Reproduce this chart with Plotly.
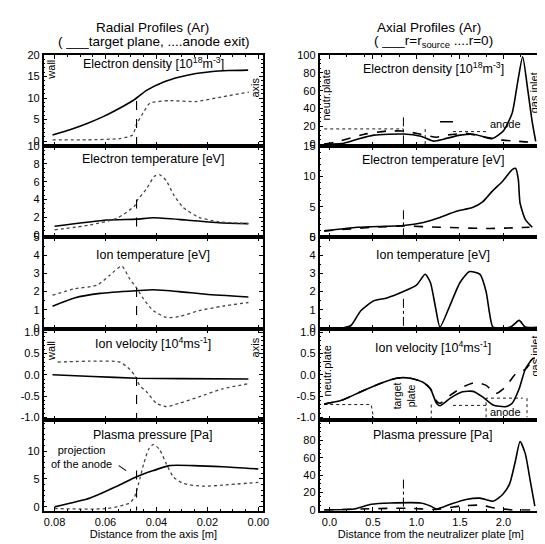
import plotly.graph_objects as go

# ---------------- data ----------------
# Radial profiles: x = distance from axis [m]
NE_T_R = [0.0808, 0.0737, 0.0672, 0.0607, 0.0543, 0.049, 0.0439, 0.0374, 0.0309, 0.0245, 0.018, 0.0116, 0.004]
NE_T = [1.4, 2.7, 4.1, 5.75, 7.7, 9.5, 11.8, 13.7, 14.9, 15.7, 16.2, 16.4, 16.5]
NE_A_R = [0.0808, 0.0672, 0.0543, 0.0494, 0.0478, 0.0452, 0.0426, 0.0348, 0.0245, 0.0141, 0.0037]
NE_A = [0.3, 0.3, 0.6, 1.4, 3.9, 6.6, 8.8, 9.4, 9.2, 10.3, 11.4]

TE_T_R = [0.08, 0.0594, 0.0478, 0.0412, 0.0283, 0.0155, 0.0039]
TE_T = [1.0, 1.7, 1.8, 1.95, 1.7, 1.4, 1.3]
TE_A_R = [0.08, 0.066, 0.0555, 0.0485, 0.0478, 0.0439, 0.0408, 0.0388, 0.0361, 0.0334, 0.0295, 0.0233, 0.0155, 0.0039]
TE_A = [0.6, 1.15, 1.9, 3.3, 3.8, 5.2, 6.6, 6.8, 6.1, 4.6, 3.1, 2.0, 1.5, 1.3]

TI_T_R = [0.0808, 0.0722, 0.0621, 0.0478, 0.0412, 0.0311, 0.0206, 0.0039]
TI_T = [1.2, 1.65, 1.9, 2.05, 2.1, 2.0, 1.85, 1.7]
TI_A_R = [0.0808, 0.0722, 0.0633, 0.0583, 0.0536, 0.0505, 0.0478, 0.0451, 0.0412, 0.0361, 0.0311, 0.0233, 0.014, 0.0039]
TI_A = [1.8, 2.15, 2.35, 2.9, 3.4, 2.7, 2.2, 1.6, 0.95, 0.58, 0.63, 0.95, 1.2, 1.4]

VI_T_R = [0.0808, 0.065, 0.0478, 0.03, 0.0039]
VI_T = [0.0, -0.04, -0.08, -0.09, -0.1]
VI_A_R = [0.0788, 0.066, 0.0544, 0.0505, 0.0485, 0.0466, 0.0439, 0.04, 0.0361, 0.0311, 0.0233, 0.014, 0.0039]
VI_A = [0.3, 0.32, 0.3, 0.13, -0.02, -0.25, -0.4, -0.67, -0.75, -0.67, -0.52, -0.33, -0.21]

P_T_R = [0.08, 0.066, 0.0555, 0.0478, 0.0412, 0.0349, 0.0256, 0.014, 0.0]
P_T = [0.0, 1.6, 3.7, 5.4, 6.5, 7.4, 7.4, 7.2, 6.8]
P_A_R = [0.08, 0.0594, 0.0505, 0.0485, 0.047, 0.045, 0.0431, 0.0412, 0.0388, 0.0361, 0.0334, 0.0295, 0.0217, 0.014, 0.0]
P_A = [-0.3, -0.3, 0.7, 1.9, 4.2, 7.7, 10.3, 11.2, 10.3, 7.7, 5.4, 4.2, 3.7, 3.9, 4.4]

# Axial profiles: x = distance from the neutralizer plate [m]
NE_S_Z = [-0.06, 0.14, 0.32, 0.51, 0.85, 1.05, 1.2, 1.31, 1.5, 1.65, 1.8, 1.88, 2.0, 2.1, 2.16, 2.22, 2.28, 2.33, 2.37]
NE_S = [0, 0.5, 5.5, 10, 11.3, 8.8, 3.3, 5.5, 10, 11, 7.7, 6.6, 15, 35, 68, 98, 60, 25, 3]
NE_0_Z = [-0.06, 0.06, 0.4, 0.66, 0.85, 1.05, 1.23, 1.34, 1.57, 1.73, 1.88, 2.1, 2.25, 2.33]
NE_0 = [0, 2, 11, 14.6, 14.6, 11, 7.7, 10, 12, 9, 5.5, 3.6, 2.5, 2]

TE_S_Z = [-0.06, 0.32, 0.85, 1.08, 1.27, 1.45, 1.65, 1.76, 1.875, 1.99, 2.1, 2.14, 2.17, 2.19, 2.25, 2.33]
TE_S = [1.0, 1.6, 1.9, 2.4, 3.2, 4.2, 4.9, 5.8, 7.6, 9.2, 11.1, 11.3, 9.5, 5.6, 2.9, 1.6]
TE_0_Z = [-0.06, 0.51, 0.85, 1.27, 1.84, 2.3]
TE_0 = [1.0, 1.6, 1.8, 1.6, 1.4, 1.6]

TI_S_Z = [-0.06, 0.15, 0.25, 0.36, 0.51, 0.66, 0.85, 1.0, 1.1, 1.16, 1.22, 1.27, 1.39, 1.5, 1.61, 1.73, 1.8, 1.84, 1.88, 2.08, 2.18, 2.25, 2.4]
TI_S = [0, 0, 0.15, 0.95, 1.5, 1.65, 2.0, 2.35, 2.95, 2.5, 1.1, 0.05, 1.3, 2.5, 3.1, 2.95, 2.0, 0.8, 0.05, 0.05, 0.42, 0.05, 0.05]

VI_S_Z = [-0.06, 0.14, 0.36, 0.59, 0.77, 0.93, 1.08, 1.16, 1.23, 1.27, 1.39, 1.53, 1.65, 1.76, 1.88, 2.02, 2.1, 2.18, 2.25, 2.33, 2.36]
VI_S = [-0.69, -0.6, -0.4, -0.2, -0.08, -0.08, -0.18, -0.33, -0.67, -0.73, -0.55, -0.4, -0.39, -0.52, -0.71, -0.75, -0.67, -0.33, 0.13, 0.37, 0.4]
VI_0_Z = [-0.06, 0.14, 0.36, 0.59, 0.77, 0.93, 1.08, 1.16, 1.23, 1.27, 1.39, 1.53, 1.68, 1.8, 1.91, 2.02, 2.14, 2.25, 2.31]
VI_0 = [-0.69, -0.6, -0.4, -0.2, -0.08, -0.08, -0.18, -0.33, -0.62, -0.67, -0.48, -0.29, -0.18, -0.25, -0.44, -0.29, 0.02, 0.13, 0.28]

P_S_Z = [-0.06, 0.28, 0.48, 0.7, 1.05, 1.16, 1.23, 1.39, 1.57, 1.73, 1.88, 1.99, 2.07, 2.14, 2.19, 2.25, 2.31, 2.36]
P_S = [0, 1, 6.5, 8, 8, 4.5, 1, 6.5, 12, 13.6, 10, 17.8, 30, 58, 79, 65, 32, 4.5]
P_0_Z = [-0.06, 0.89, 1.23, 1.5, 1.73, 1.91, 2.1, 2.36]
P_0 = [0, 2, 0.5, 4.5, 5.5, 2, 0, 0]

# device geometry outlines (axial)
GEO_NE = [([-0.06, 0.85], [17, 17]), ([1.1, 1.1], [0, 17]), ([1.42, 1.8], [14, 14])]
GEO_NE_BAR = ([1.27, 1.42], [25, 25])
GEO_VI = [([-0.06, 0.48, 0.51], [-0.7, -0.7, -1.06]), ([1.17, 1.17], [-0.7, -1.06]),
          ([1.42, 1.8], [-0.72, -0.72]), ([1.8, 1.8, 2.22], [-1.0, -0.55, -0.55]),
          ([2.27, 2.27], [-0.55, -1.0])]

ANODE_R = 0.0478       # projection of the anode (radial)
TARGET_Z = 0.85        # target plate position (axial)
ANODE_LINE_TOP = [9.3, 4.0, 2.2, -0.05, 6.5]
TARGET_LINE_TOP = [30, 4.4, 1.6, None, 35]

PANEL_TITLES = ["Electron density [10<sup>18</sup>m<sup>-3</sup>]", "Electron temperature [eV]",
                "Ion temperature [eV]", "Ion velocity [10<sup>4</sup>ms<sup>-1</sup>]", "Plasma pressure [Pa]"]

LEFT_YRANGES = [[-1.14, 20], [-0.2, 10.0], [-0.05, 5.0], [-1.06, 1.08], [-0.7, 15.6]]
RIGHT_YRANGES = [[-2.2, 100], [0, 15.0], [-0.05, 5.0], [-1.06, 1.08], [-1, 104]]
LEFT_YTICKS = [[0, 5, 10, 15, 20], [0, 2, 4, 6, 8, 10], [0, 1, 2, 3, 4, 5], [-1, -0.5, 0, 0.5, 1], [0, 5, 10]]
RIGHT_YTICKS = [[0, 20, 40, 60, 80, 100], [0, 5, 10, 15], [0, 1, 2, 3, 4, 5], [-1, -0.5, 0, 0.5, 1], [0, 20, 40, 60, 80]]
VI_TICKTEXT = ["-1.0", "-0.5", "0.0", "0.5", "1.0"]
R_TICKS = [0.08, 0.06, 0.04, 0.02, 0.0]
R_TICKTEXT = ["0.08", "0.06", "0.04", "0.02", "0.00"]
Z_TICKS = [0.0, 0.5, 1.0, 1.5, 2.0]
Z_TICKTEXT = ["0.0", "0.5", "1.0", "1.5", "2.0"]

LEFT_SERIES = [(NE_T_R, NE_T, NE_A_R, NE_A), (TE_T_R, TE_T, TE_A_R, TE_A), (TI_T_R, TI_T, TI_A_R, TI_A),
               (VI_T_R, VI_T, VI_A_R, VI_A), (P_T_R, P_T, P_A_R, P_A)]
RIGHT_SERIES = [(NE_S_Z, NE_S, NE_0_Z, NE_0), (TE_S_Z, TE_S, TE_0_Z, TE_0), (TI_S_Z, TI_S, None, None),
                (VI_S_Z, VI_S, VI_0_Z, VI_0), (P_S_Z, P_S, P_0_Z, P_0)]

# ---------------- layout geometry ----------------
W, H = 545, 544
FONT = "Liberation Sans, Arial, Helvetica, sans-serif"
COL_X = [(36, 258), (315, 540)]
ROW_Y = [(42, 135), (135, 228), (228, 322), (322, 415), (415, 508)]
LEFT_XRANGE = [0.0843, -0.0019]
RIGHT_XRANGE = [-0.114, 2.443]

fig = go.Figure()
layout = dict(width=W, height=H, margin=dict(l=0, r=0, t=0, b=0),
              paper_bgcolor="white", plot_bgcolor="white", showlegend=False,
              font=dict(family=FONT, color="black", size=11))
annotations = []


def px(x):
    return x / W


def py(y):
    return 1 - y / H


def add_line(n, x, y, dash="solid", width=1.6, color="black", shape="spline", smooth=0.6):
    fig.add_trace(go.Scatter(x=x, y=y, mode="lines", xaxis=f"x{n}", yaxis=f"y{n}",
                             line=dict(color=color, width=width, dash=dash, shape=shape,
                                       smoothing=smooth if shape == "spline" else None),
                             hoverinfo="skip"))


for row in range(5):
    for col in range(2):
        n = row * 2 + col + 1
        sfx = "" if n == 1 else str(n)
        x0, x1 = COL_X[col]
        yt, yb = ROW_Y[row]
        bottom = row == 4
        if col == 0:
            xr, xt, xtt = LEFT_XRANGE, R_TICKS, R_TICKTEXT
            yr, yt_v = LEFT_YRANGES[row], LEFT_YTICKS[row]
        else:
            xr, xt, xtt = RIGHT_XRANGE, Z_TICKS, Z_TICKTEXT
            yr, yt_v = RIGHT_YRANGES[row], RIGHT_YTICKS[row]
        layout["xaxis" + sfx] = dict(
            domain=[px(x0), px(x1)], range=xr, anchor=f"y{n}", tickvals=xt, ticktext=xtt,
            showticklabels=bottom, ticks="inside", ticklen=4, tickwidth=1, tickcolor="black",
            showline=True, linecolor="black", linewidth=1.5, mirror="allticks",
            showgrid=False, zeroline=False, tickfont=dict(size=11, family=FONT),
            minor=dict(ticks="inside", ticklen=2, nticks=5, tickcolor="black"),
            title=dict(text=("Distance from the axis [m]" if col == 0 else
                             "Distance from the neutralizer plate [m]") if bottom else None,
                       font=dict(size=11, family=FONT), standoff=2))
        ytxt = VI_TICKTEXT if row == 3 else [str(v) for v in yt_v]
        layout["yaxis" + sfx] = dict(
            domain=[py(yb), py(yt)], range=yr, anchor=f"x{n}", tickvals=yt_v, ticktext=ytxt,
            ticks="inside", ticklen=4, tickwidth=1, tickcolor="black",
            showline=True, linecolor="black", linewidth=1.5, mirror="allticks",
            showgrid=False, zeroline=False, tickfont=dict(size=11, family=FONT),
            minor=dict(ticks="inside", ticklen=2, nticks=5, tickcolor="black"))

        if col == 0:
            xs, ys, xd, yd = LEFT_SERIES[row]
            add_line(n, xs, ys)
            add_line(n, xd, yd, dash="dot", width=1.3, color="#444")
            add_line(n, [ANODE_R, ANODE_R], [ANODE_LINE_TOP[row], yr[0]], dash="dash", width=1.1, shape="linear")
            cx = 147
        else:
            xs, ys, xd, yd = RIGHT_SERIES[row]
            add_line(n, xs, ys)
            if xd is not None:
                add_line(n, xd, yd, dash="dash", width=1.6)
            if TARGET_LINE_TOP[row] is not None:
                add_line(n, [TARGET_Z, TARGET_Z], [TARGET_LINE_TOP[row], yr[0]], dash="dashdot", width=1.0, shape="linear")
            cx = 430
        ty = [50, 148, 246, 336, 431][row] if col == 0 else [55, 149, 246, 340, 431][row]
        annotations.append(dict(text=PANEL_TITLES[row], x=px(cx), y=py(ty), xref="paper", yref="paper",
                                showarrow=False, font=dict(size=12.5, family=FONT), xanchor="center", yanchor="middle"))

# device geometry outlines (right column)
for gx, gy in GEO_NE:
    add_line(2, gx, gy, dash="dot", width=0.9, shape="linear")
add_line(2, GEO_NE_BAR[0], GEO_NE_BAR[1], width=1.6, shape="linear")
for gx, gy in GEO_VI:
    add_line(8, gx, gy, dash="dot", width=0.9, shape="linear")

# projection of the anode arrow (dashed)
add_line(9, [0.0548, 0.049], [7.4, 5.6], dash="dash", width=1.1, shape="linear")

# header titles
for txt, x, y, s in [("Radial Profiles (Ar)", 146, 14, 13.5), ("( ___target plane, ....anode exit)", 147, 28, 13.5),
                     ("Axial Profiles (Ar)", 426, 14, 13.5), ("( ___r=r<sub>source</sub> ....r=0)", 430, 28, 13.5)]:
    annotations.append(dict(text=txt, x=px(x), y=py(y), xref="paper", yref="paper", showarrow=False,
                            font=dict(size=s, family=FONT), xanchor="center", yanchor="middle"))


def data_label(n, text, x, y, angle=0, size=11, xanchor="center"):
    annotations.append(dict(text=text, x=x, y=y, xref=f"x{n}", yref=f"y{n}", showarrow=False,
                            textangle=angle, font=dict(size=size, family=FONT), xanchor=xanchor, yanchor="middle"))


data_label(1, "wall", 0.0812, 16.5, -90)
data_label(1, "axis", 0.0012, 12.5, -90)
data_label(7, "wall", 0.0812, 0.55, -90)
data_label(7, "axis", 0.0012, 0.65, -90)
data_label(9, "projection<br>of the anode", 0.0695, 9.0, 0, 11)
data_label(2, "neutr.plate", -0.035, 55, -90)
data_label(2, "gas inlet", 2.36, 58, -90)
data_label(2, "anode", 2.02, 22, 0)
data_label(8, "neutr.plate", -0.03, 0.1, -90)
data_label(8, "gas inlet", 2.36, 0.45, -90)
data_label(8, "target<br>plate", 0.86, -0.5, -90, 10.5)
data_label(8, "anode", 2.02, -0.88, 0)

layout["annotations"] = annotations
fig.update_layout(**layout)
fig.write_html("out.html")
